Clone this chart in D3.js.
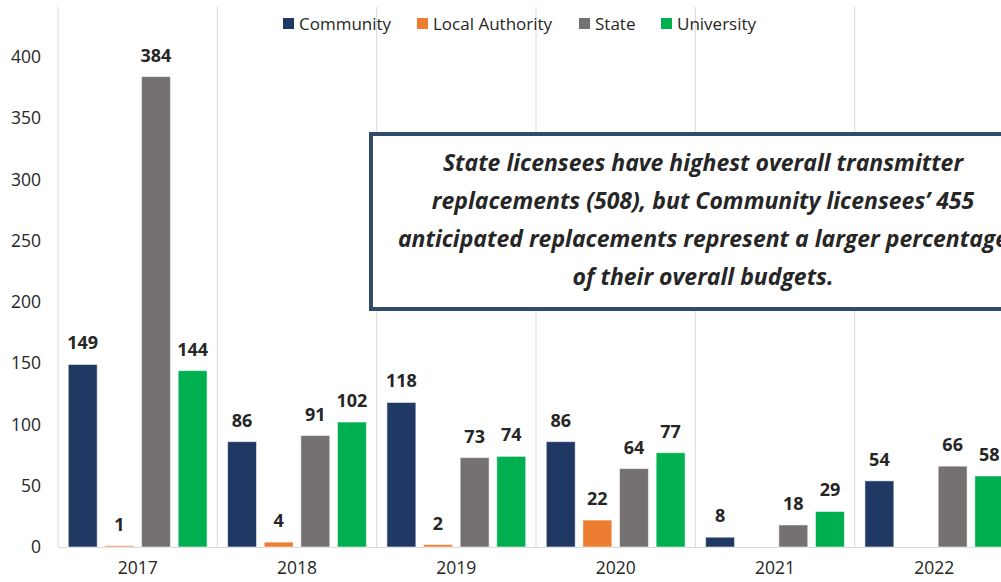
<!DOCTYPE html>
<html>
<head>
<meta charset="utf-8">
<script src="https://cdn.jsdelivr.net/npm/d3@7/dist/d3.min.js"></script>
<style>
  html, body { margin: 0; padding: 0; background: #fff; }
  svg { display: block; }
  text { font-family: "Open Sans", "Noto Sans", sans-serif; }
</style>
</head>
<body>
<svg id="chart" width="1001" height="582"></svg>
<script>
// Transmitter replacements by licensee type and year
const years = ["2017", "2018", "2019", "2020", "2021", "2022"];
const seriesNames = ["Community", "Local Authority", "State", "University"];
const community = [149, 86, 118, 86, 8, 54];
const localAuthority = [1, 4, 2, 22, null, null];
const state = [384, 91, 73, 64, 18, 66];
const university = [144, 102, 74, 77, 29, 58];
const seriesColors = ["#203864", "#ED7D31", "#767171", "#00B050"];
const yTicks = [0, 50, 100, 150, 200, 250, 300, 350, 400];
const calloutLines = [
  "State licensees have highest overall transmitter",
  "replacements (508), but Community licensees\u2019 455",
  "anticipated replacements represent a larger percentage",
  "of their overall budgets."
];

const seriesValues = [community, localAuthority, state, university];

const svg = d3.select("#chart");
const W = 1001, H = 582;
const plot = { left: 58, right: 1014, top: 7, bottom: 547 };

const x = d3.scaleBand().domain(years).range([plot.left, plot.right]).paddingInner(0).paddingOuter(0);
const xs = d3.scaleBand().domain(seriesNames).range([0, x.bandwidth()]).paddingInner(0.21).paddingOuter(0.28);
const y = d3.scaleLinear().domain([0, 400]).range([plot.bottom, 57]);

// vertical category separators
const seps = years.map(d => x(d)).concat([x(years[years.length - 1]) + x.bandwidth()]);
svg.append("g").selectAll("line").data(seps).join("line")
  .attr("x1", d => d).attr("x2", d => d)
  .attr("y1", plot.top).attr("y2", plot.bottom)
  .attr("stroke", "#d9d9d9").attr("stroke-width", 1);

// baseline
svg.append("line")
  .attr("x1", plot.left).attr("x2", W)
  .attr("y1", plot.bottom + 0.5).attr("y2", plot.bottom + 0.5)
  .attr("stroke", "#d9d9d9").attr("stroke-width", 1);

// y axis labels
const yAxis = d3.axisLeft(y).tickValues(yTicks).tickSize(0).tickPadding(0);
const gy = svg.append("g").attr("transform", "translate(41,0)").call(yAxis);
gy.select(".domain").remove();
gy.selectAll("text").attr("font-size", 17.5).attr("fill", "#262626")
  .attr("font-family", "'Open Sans', sans-serif");

// x axis labels
const xAxis = d3.axisBottom(x).tickSize(0).tickPadding(0);
const gx = svg.append("g").attr("transform", `translate(0,${plot.bottom + 15})`).call(xAxis);
gx.select(".domain").remove();
gx.selectAll("text").attr("font-size", 17.5).attr("fill", "#262626")
  .attr("font-family", "'Open Sans', sans-serif");

// bars and value labels
const flat = [];
seriesNames.forEach((s, si) => {
  years.forEach((yr, yi) => {
    const v = seriesValues[si][yi];
    if (v !== null) flat.push({ series: s, si, year: yr, value: v });
  });
});

svg.append("g").selectAll("rect").data(flat).join("rect")
  .attr("x", d => x(d.year) + xs(d.series))
  .attr("width", xs.bandwidth())
  .attr("y", d => y(d.value))
  .attr("height", d => plot.bottom - y(d.value))
  .attr("fill", d => seriesColors[d.si])
  .attr("stroke", "rgba(255,255,255,0.55)")
  .attr("stroke-width", 1);

svg.append("g").selectAll("text").data(flat).join("text")
  .attr("x", d => x(d.year) + xs(d.series) + xs.bandwidth() / 2)
  .attr("y", d => y(d.value) - 15)
  .attr("text-anchor", "middle")
  .attr("font-size", 18)
  .attr("font-weight", "bold")
  .attr("fill", "#262626")
  .text(d => d.value);

// legend
const legendX = [283, 417, 579, 661];
const lg = svg.append("g");
seriesNames.forEach((s, i) => {
  lg.append("rect").attr("x", legendX[i]).attr("y", 18).attr("width", 11).attr("height", 11)
    .attr("fill", seriesColors[i]);
  lg.append("text").attr("x", legendX[i] + 16).attr("y", 29.5)
    .attr("font-size", 17).attr("fill", "#262626").text(s);
});

// callout box
const box = { x: 371, y: 134, w: 700, h: 175 };
svg.append("rect")
  .attr("x", box.x).attr("y", box.y).attr("width", box.w).attr("height", box.h)
  .attr("fill", "#fff").attr("stroke", "#2F4D6B").attr("stroke-width", 4);

svg.append("g").selectAll("text").data(calloutLines).join("text")
  .attr("x", 703)
  .attr("y", (d, i) => 171 + i * 38)
  .attr("text-anchor", "middle")
  .attr("font-size", 23)
  .attr("font-weight", "bold")
  .attr("font-style", "italic")
  .attr("fill", "#262626")
  .text(d => d);
</script>
</body>
</html>
